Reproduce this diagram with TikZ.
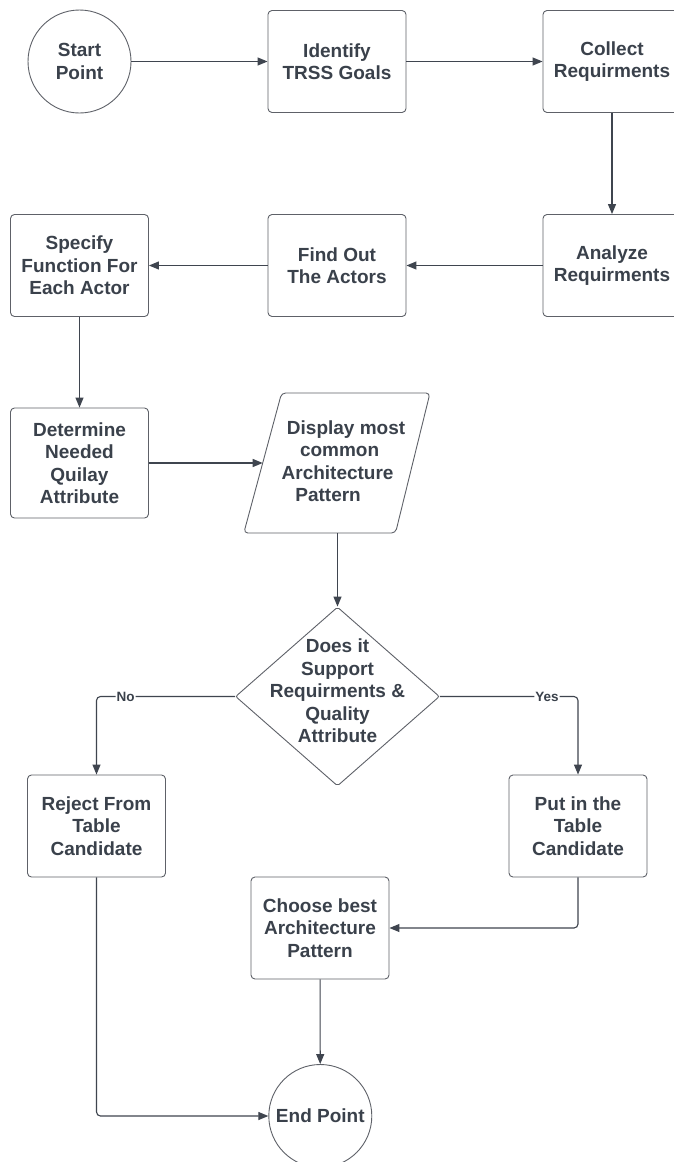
\documentclass[tikz,border=0pt]{standalone}
\usepackage{fontspec}
\setmainfont{Liberation Sans}
\usetikzlibrary{shapes.geometric,arrows.meta}
\definecolor{txt}{HTML}{3A414B}
\definecolor{edgec}{HTML}{5E6168}
\definecolor{arr}{HTML}{3F454F}
\begin{document}
\begin{tikzpicture}[x=1pt,y=-1pt,
  every node/.style={font=\bfseries\fontsize{19}{22.5}\selectfont, text=txt, align=center},
  box/.style={draw=edgec, line width=0.9pt, rounded corners=4pt, minimum width=138pt, minimum height=102pt, inner sep=0pt},
  term/.style={draw=edgec, circle, line width=0.9pt, minimum size=103pt, inner sep=0pt},
  flow/.style={draw=arr, line width=1.1pt, -{Triangle[length=10pt,width=8pt]}},
  lbl/.style={fill=white, inner sep=1pt, font=\bfseries\fontsize{13.5}{15}\selectfont}
]
\fill[white] (0,0) rectangle (674,1162);
\useasboundingbox (0,0) rectangle (674,1162);

\node[term] (start) at (79.5,61.5) {Start\\Point};
\node[box] (ident) at (337,61.5) {Identify\\TRSS Goals};
\node[box] (coll) at (612,61.5) {Collect\\Requirments};
\node[box] (anal) at (612,265.5) {Analyze\\Requirments};
\node[box] (find) at (337,265.5) {Find Out\\The Actors};
\node[box] (spec) at (79.5,265.5) {Specify\\Function For\\Each Actor};
\node[box, minimum height=110pt] (det) at (79.5,463) {Determine\\Needed\\Quilay\\Attribute};

% parallelogram
\coordinate (pTL) at (281.6,393);
\coordinate (pTR) at (430,393);
\coordinate (pBR) at (395.5,533);
\coordinate (pBL) at (243.8,533);
\coordinate (dispW) at (262.7,463);
\coordinate (dispS) at (337.5,533);
\draw[draw=edgec, line width=0.9pt, rounded corners=4pt] (pTL) -- (pTR) -- (pBR) -- (pBL) -- cycle;
\node (disp) at (337.6,461) {\hspace*{17pt}Display most\\\hspace*{4pt}common\\Architecture\hspace*{6pt}\\Pattern\hspace*{19pt}};

\node[draw=edgec, diamond, line width=0.9pt, minimum width=204pt, minimum height=179pt, inner sep=0pt, rounded corners=2pt] (dec) at (337.5,696.5) {};
\node (dectext) at (337.5,691) {Does it\\Support\\Requirments \&\\Quality\\Attribute};

\node[box] (rej) at (96.5,826) {Reject From\\Table\\Candidate};
\node[box] (put) at (578,826) {Put in the\\Table\\Candidate};
\node[box] (choose) at (320,928) {Choose best\\Architecture\\Pattern};
\node[term] (end) at (320.3,1116) {End Point};

\draw[flow] (start) -- (ident);
\draw[flow] (ident) -- (coll);
\draw[flow] (coll) -- (anal);
\draw[flow] (anal) -- (find);
\draw[flow] (find) -- (spec);
\draw[flow] (spec) -- (det);
\draw[flow] (det.east |- dispW) -- (dispW);
\draw[flow] (dispS) -- (dec.north);
\draw[flow, rounded corners=4pt] (dec.west) -| node[lbl, pos=0.395] {No} (rej.north);
\draw[flow, rounded corners=4pt] (dec.east) -| node[lbl, pos=0.388] {Yes} (put.north);
\draw[flow, rounded corners=4pt] (put.south) |- (choose.east);
\draw[flow, rounded corners=4pt] (rej.south) |- (end.west);
\draw[flow] (choose) -- (end);
\end{tikzpicture}
\end{document}
